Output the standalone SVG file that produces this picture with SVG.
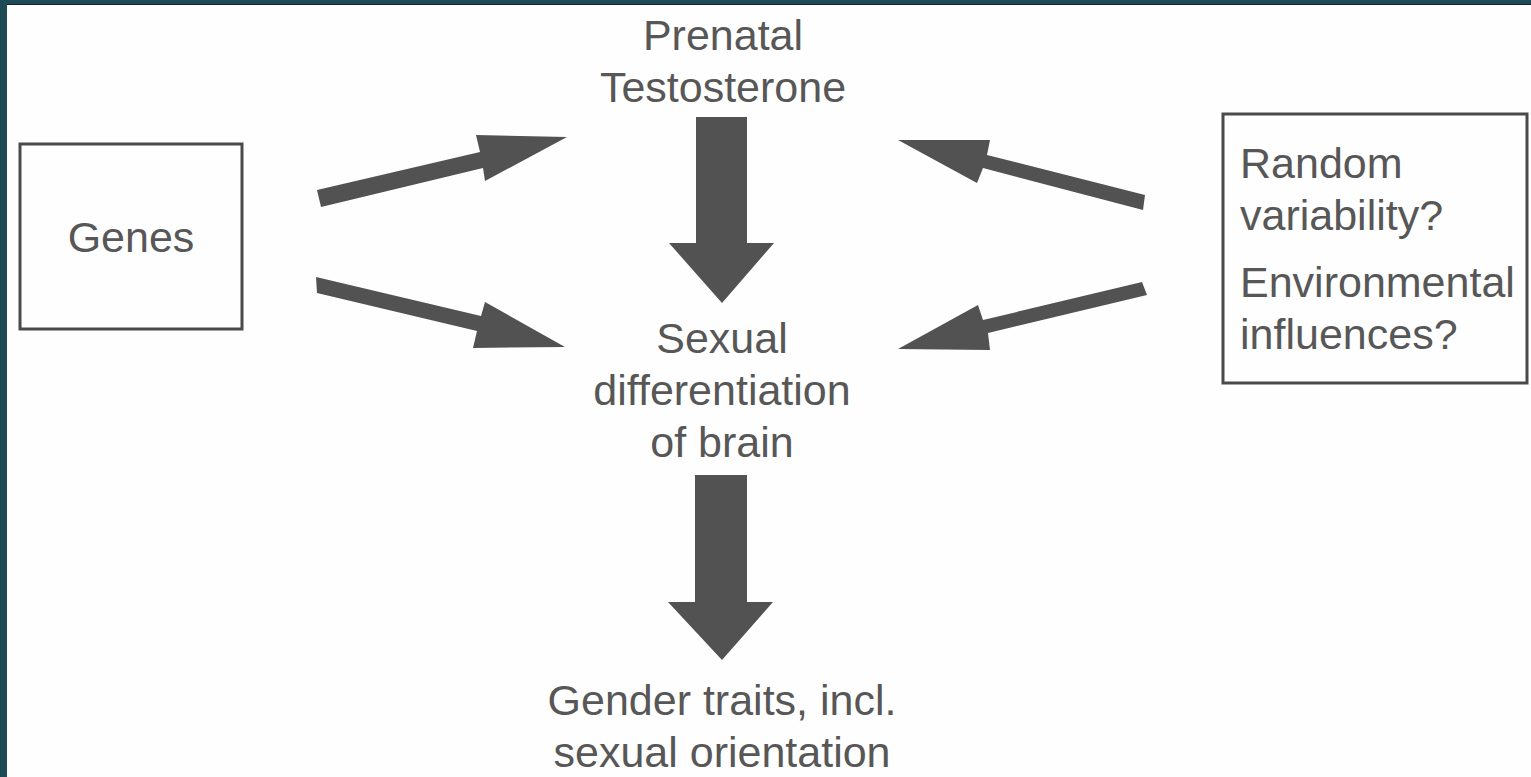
<svg xmlns="http://www.w3.org/2000/svg" width="1531" height="777" viewBox="0 0 1531 777">
<style>
.t{font-family:"Liberation Sans",Arial,sans-serif;font-size:43px;fill:#575757}
.c{text-anchor:middle}
.box{fill:none;stroke:#4a4a4a;stroke-width:3}
.arr{fill:#525252}
</style>
<rect x="0" y="0" width="1531" height="777" fill="#1c4a55"/>
<rect x="7" y="4" width="1524" height="773" fill="#fefefe"/>
<line x1="7" y1="4.5" x2="1531" y2="4.5" stroke="#1a1a3a" stroke-width="1"/>
<g id="genes">
<rect class="box" x="20" y="144" width="222" height="185"/>
<text class="t c" x="131" y="252">Genes</text>
</g>
<g id="testosterone">
<text class="t c" x="723" y="50">Prenatal</text>
<text class="t c" x="723" y="102">Testosterone</text>
</g>
<g id="brain">
<text class="t c" x="722" y="353">Sexual</text>
<text class="t c" x="722" y="405">differentiation</text>
<text class="t c" x="722" y="457">of brain</text>
</g>
<g id="traits">
<text class="t c" x="722" y="715">Gender traits, incl.</text>
<text class="t c" x="722" y="767">sexual orientation</text>
</g>
<g id="random">
<rect class="box" x="1223" y="114" width="304" height="269"/>
<text class="t" x="1240" y="178">Random</text>
<text class="t" x="1240" y="230">variability?</text>
<text class="t" x="1240" y="297">Environmental</text>
<text class="t" x="1240" y="349">influences?</text>
</g>
<g id="connectors">
<polygon class="arr" points="696,117 747,117 747,243 774,243 722,303 669,243 696,243"/>
<polygon class="arr" points="695,475 747,475 747,602 773,602 722,660 668,602 695,602"/>
<polygon class="arr" points="317,190 480,152 476,135 567,137 485,181 483,168 321,207"/>
<polygon class="arr" points="316,277 481,316 485,302 565,347 473,348 477,331 317,293"/>
<polygon class="arr" points="898,140 990,140 987,155 1145,195 1143,210 983,168 977,183"/>
<polygon class="arr" points="898,349 978,305 983,320 1142,282 1147,295 988,333 990,350"/>
</g>
</svg>
